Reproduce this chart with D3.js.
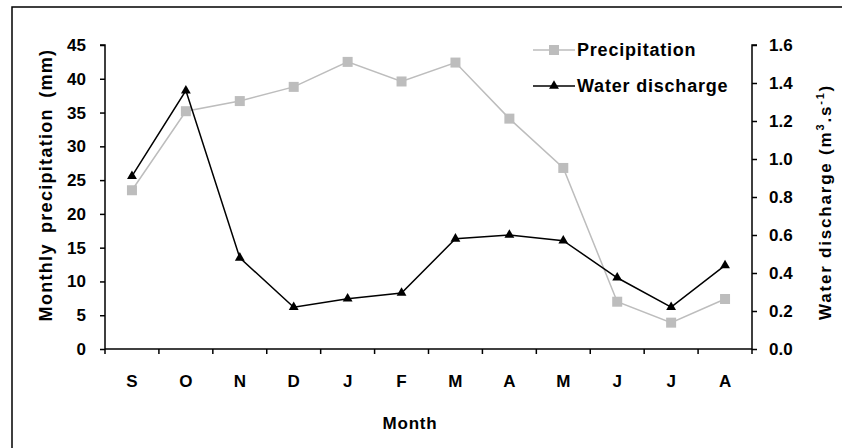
<!DOCTYPE html>
<html>
<head>
<meta charset="utf-8">
<script src="https://cdn.jsdelivr.net/npm/d3@7"></script>
<style>
  body { margin: 0; background: #fff; }
  svg text { font-family: "Liberation Sans", Arial, sans-serif; font-weight: bold; fill: #000; }
</style>
</head>
<body>
<svg id="chart" width="842" height="448"></svg>
<script>
// months (Sept -> Aug)
const months = ["S", "O", "N", "D", "J", "F", "M", "A", "M", "J", "J", "A"];
// monthly precipitation (mm), left axis
const precipitation = [23.5, 35.2, 36.7, 38.8, 42.5, 39.6, 42.4, 34.1, 26.8, 7.0, 3.9, 7.4];
// water discharge (m3/s), right axis
const discharge = [0.91, 1.36, 0.48, 0.22, 0.265, 0.295, 0.58, 0.60, 0.57, 0.375, 0.22, 0.44];
const leftTicks = [0, 5, 10, 15, 20, 25, 30, 35, 40, 45];
const rightTicks = [0, 0.2, 0.4, 0.6, 0.8, 1.0, 1.2, 1.4, 1.6];

const svg = d3.select("#chart");
const pLeft = 105, pRight = 752, pTop = 45, pBottom = 349;

// outer frame (runs off the right/bottom of the picture)
svg.append("rect")
  .attr("x", 12).attr("y", 7)
  .attr("width", 900).attr("height", 500)
  .attr("fill", "none").attr("stroke", "#000").attr("stroke-width", 1.5);

const x = d3.scaleBand().domain(d3.range(months.length)).range([pLeft, pRight]);
const yL = d3.scaleLinear().domain([0, 45]).range([pBottom, pTop]);
const yR = d3.scaleLinear().domain([0, 1.6]).range([pBottom, pTop]);
const cx = i => x(i) + x.bandwidth() / 2;

// x axis
const gx = svg.append("g").attr("transform", `translate(0,${pBottom})`);
gx.append("line").attr("x1", pLeft).attr("x2", pRight).attr("stroke", "#000").attr("stroke-width", 1.5);
gx.selectAll(".tk").data(d3.range(months.length + 1)).join("line")
  .attr("x1", i => pLeft + i * x.bandwidth()).attr("x2", i => pLeft + i * x.bandwidth())
  .attr("y1", 0).attr("y2", 5).attr("stroke", "#000").attr("stroke-width", 1.5);
gx.selectAll(".lbl").data(months).join("text")
  .attr("x", (d, i) => cx(i)).attr("y", 38)
  .attr("text-anchor", "middle").attr("font-size", 17).text(d => d);

// left axis
const gl = svg.append("g").attr("transform", `translate(${pLeft},0)`)
  .call(d3.axisLeft(yL).tickValues(leftTicks).tickSize(5).tickPadding(14).tickFormat(d3.format("d")));
gl.selectAll("path, line").attr("stroke", "#000").attr("stroke-width", 1.5);
gl.select(".domain").attr("d", `M-5,${pTop}H0V${pBottom}`);
gl.selectAll("text").attr("font-size", 17).attr("font-family", null);

// right axis
const gr = svg.append("g").attr("transform", `translate(${pRight},0)`)
  .call(d3.axisRight(yR).tickValues(rightTicks).tickSize(5).tickPadding(12).tickFormat(d3.format(".1f")));
gr.selectAll("path, line").attr("stroke", "#000").attr("stroke-width", 1.5);
gr.select(".domain").attr("d", `M5,${pTop}H0V${pBottom}`);
gr.selectAll("text").attr("font-size", 17).attr("font-family", null);

// axis titles
svg.append("text")
  .attr("transform", "translate(52,185) rotate(-90)")
  .attr("text-anchor", "middle").attr("font-size", 18)
  .attr("letter-spacing", 1.3).attr("word-spacing", 4)
  .text("Monthly precipitation (mm)");
const rt = svg.append("text")
  .attr("transform", "translate(831,202) rotate(-90)")
  .attr("text-anchor", "middle").attr("font-size", 17).attr("letter-spacing", 1.8);
rt.append("tspan").text("Water discharge (m");
rt.append("tspan").attr("font-size", 11).attr("dy", -7).text("3");
rt.append("tspan").attr("dy", 7).text(".s");
rt.append("tspan").attr("font-size", 11).attr("dy", -7).text("-1");
rt.append("tspan").attr("dy", 7).text(")");

svg.append("text")
  .attr("x", 410).attr("y", 429).attr("text-anchor", "middle")
  .attr("font-size", 17).attr("letter-spacing", 0.8).text("Month");

// lines
const precipColor = "#bdbdbd";
const linePrec = d3.line().x((d, i) => cx(i)).y(d => yL(d));
const lineDis = d3.line().x((d, i) => cx(i)).y(d => yR(d));

svg.append("path").datum(precipitation).attr("d", linePrec)
  .attr("fill", "none").attr("stroke", precipColor).attr("stroke-width", 1.5);
svg.selectAll(".sq").data(precipitation).join("rect")
  .attr("x", (d, i) => cx(i) - 5).attr("y", d => yL(d) - 5)
  .attr("width", 10).attr("height", 10).attr("fill", precipColor);

svg.append("path").datum(discharge).attr("d", lineDis)
  .attr("fill", "none").attr("stroke", "#000").attr("stroke-width", 1.5);
const tri = d3.symbol().type(d3.symbolTriangle).size(42);
svg.selectAll(".tri").data(discharge).join("path")
  .attr("transform", (d, i) => `translate(${cx(i)},${yR(d)})`)
  .attr("d", tri).attr("fill", "#000");

// legend
const legend = [
  { name: "Precipitation", color: precipColor, shape: "sq", y: 50 },
  { name: "Water discharge", color: "#000", shape: "tri", y: 86 }
];
legend.forEach(l => {
  svg.append("line").attr("x1", 533).attr("x2", 575).attr("y1", l.y).attr("y2", l.y)
    .attr("stroke", l.color).attr("stroke-width", 1.5);
  if (l.shape === "sq") {
    svg.append("rect").attr("x", 549).attr("y", l.y - 5).attr("width", 10).attr("height", 10).attr("fill", l.color);
  } else {
    svg.append("path").attr("transform", `translate(554,${l.y})`).attr("d", tri).attr("fill", l.color);
  }
  svg.append("text").attr("x", 577).attr("y", l.y + 6)
    .attr("font-size", 18).attr("letter-spacing", 0.8).text(l.name);
});
</script>
</body>
</html>
